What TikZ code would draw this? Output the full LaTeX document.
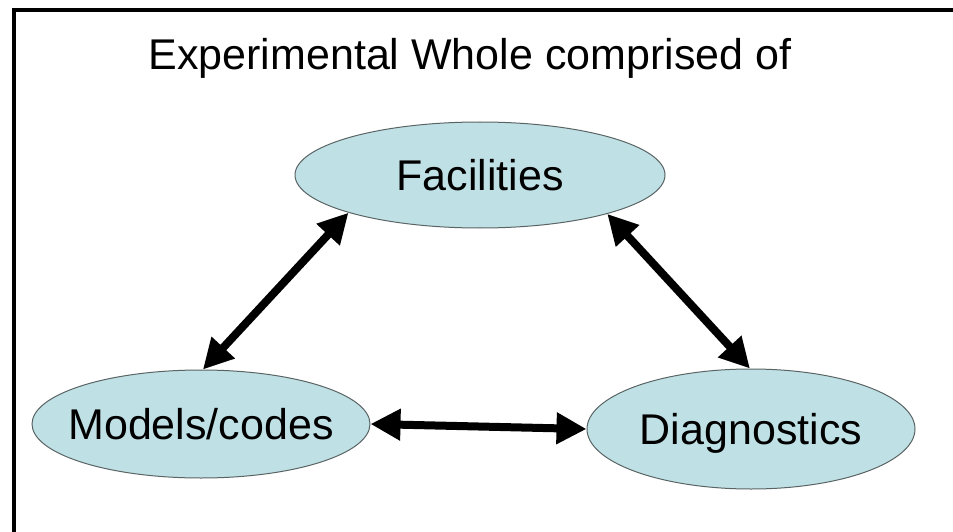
\documentclass[tikz,border=0pt]{standalone}
\usepackage{fontspec}
\setmainfont{Liberation Sans}
\usetikzlibrary{shapes.geometric,arrows.meta}
\definecolor{ovalfill}{RGB}{191,225,230}
\definecolor{ovalline}{RGB}{90,100,100}
\tikzset{
  oval/.style={ellipse, draw=ovalline, line width=1pt, fill=ovalfill, inner sep=0pt,
    text height=31pt, text depth=0pt, font=\fontsize{43}{50}\selectfont},
  link/.style={line width=8pt, black, {Triangle[length=30pt,width=30pt]}-{Triangle[length=30pt,width=30pt]}},
  titletext/.style={font=\fontsize{43}{50}\selectfont, inner sep=0pt, anchor=base}
}
\begin{document}
\begin{tikzpicture}[x=1pt,y=-1pt]
\useasboundingbox (0,0) rectangle (953,532);
\clip (0,0) rectangle (953,532);
\draw[line width=4.5pt] (14,10) rectangle (970,560);
\node[titletext] (title) at (470,70) {Experimental Whole comprised of};
\node[oval, minimum width=370pt, minimum height=106pt] (fac) at (480,175) {\makebox[0pt]{Facilities}};
\node[oval, minimum width=338pt, minimum height=108pt] (mod) at (201,424) {\makebox[0pt]{Models/codes}};
\node[oval, minimum width=328pt, minimum height=120pt] (dia) at (751,429) {\makebox[0pt]{Diagnostics}};
\draw[link] (mod.88) -- (fac.196.7);
\draw[link] (fac.343.1) -- (dia.91);
\draw[link] (mod.0) -- (dia.180);
\end{tikzpicture}
\end{document}
